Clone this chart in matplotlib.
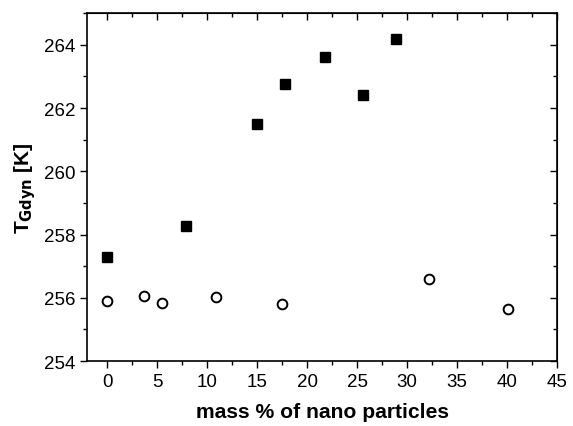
import numpy as np
import matplotlib.pyplot as plt
from matplotlib.ticker import MultipleLocator

plt.rcParams['font.family'] = ['Liberation Sans', 'DejaVu Sans']

# filled squares
sq_x = [0, 7.9, 15.0, 17.8, 21.8, 25.6, 28.9]
sq_y = [257.28, 258.27, 261.5, 262.75, 263.6, 262.41, 264.17]

# open circles
ci_x = [0, 3.7, 5.5, 10.9, 17.5, 32.2, 40.1]
ci_y = [255.9, 256.05, 255.85, 256.02, 255.82, 256.59, 255.64]

fig = plt.figure(figsize=(5.73, 4.27), dpi=100)
ax = fig.add_axes([0.152, 0.152, 0.82, 0.815])

ax.plot(sq_x, sq_y, 's', color='black', markersize=6.5, linestyle='none')
ax.plot(ci_x, ci_y, 'o', markerfacecolor='white', markeredgecolor='black',
        markeredgewidth=1.4, markersize=7, linestyle='none')

ax.set_xlim(-2, 45)
ax.set_ylim(254, 265)
ax.xaxis.set_major_locator(MultipleLocator(5))
ax.xaxis.set_minor_locator(MultipleLocator(2.5))
ax.yaxis.set_major_locator(MultipleLocator(2))
ax.yaxis.set_minor_locator(MultipleLocator(1))

ax.tick_params(which='both', direction='out', top=False, right=False, labelsize=13.5, width=1)
ax.tick_params(which='major', length=5)
ax.tick_params(which='minor', length=3)

# inward ticks on top and right
sec_x = ax.secondary_xaxis('top')
sec_x.xaxis.set_major_locator(MultipleLocator(5))
sec_x.xaxis.set_minor_locator(MultipleLocator(2.5))
sec_x.tick_params(which='both', direction='in', labeltop=False, width=1)
sec_x.tick_params(which='major', length=5)
sec_x.tick_params(which='minor', length=3)
sec_y = ax.secondary_yaxis('right')
sec_y.yaxis.set_major_locator(MultipleLocator(2))
sec_y.yaxis.set_minor_locator(MultipleLocator(1))
sec_y.tick_params(which='both', direction='in', labelright=False, width=1)
sec_y.tick_params(which='major', length=5)
sec_y.tick_params(which='minor', length=3)

for s in ax.spines.values():
    s.set_linewidth(1.2)

ax.set_xlabel('mass % of nano particles', fontsize=15.2, fontweight='bold', labelpad=9)
ax.set_ylabel(r'T$_{\mathbf{Gdyn}}$ [K]', fontsize=15, fontweight='bold', labelpad=4)

plt.savefig('out.png', dpi=100)
